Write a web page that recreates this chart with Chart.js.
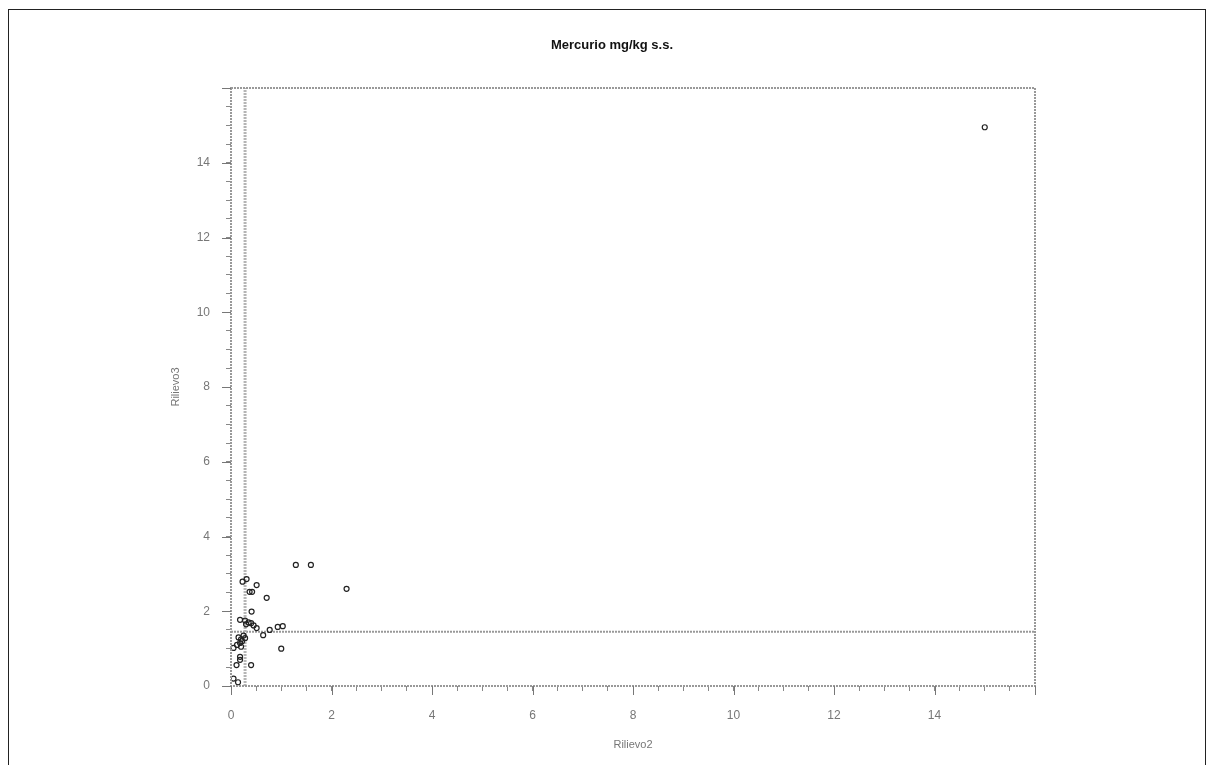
<!DOCTYPE html>
<html>
<head>
<meta charset="utf-8">
<title>Mercurio mg/kg s.s.</title>
<script src="https://cdn.jsdelivr.net/npm/chart.js@4.4.0/dist/chart.umd.min.js"></script>
<style>
  html, body { margin: 0; padding: 0; background: #fff; }
  #frame {
    position: absolute; left: 8px; top: 9px; width: 1196px; height: 800px;
    border-top: 1px solid #222; border-left: 1px solid #222; border-right: 1px solid #222;
  }
  #wrap { position: absolute; left: 0; top: 0; width: 1214px; height: 765px; }
</style>
</head>
<body>
<div id="frame"></div>
<div id="wrap"><canvas id="graph"></canvas></div>
<script>
// campioni: Rilievo2 (x) contro Rilievo3 (y)
const rilievo2 = [
  15.0, 1.29, 1.59, 2.3,
  0.23, 0.31, 0.37, 0.42, 0.51, 0.71,
  0.41, 0.28, 0.35, 0.40, 0.45, 0.30, 0.18,
  0.51, 0.64, 0.77, 0.93, 1.03, 1.0,
  0.15, 0.20, 0.18, 0.22, 0.25, 0.12, 0.20, 0.28,
  0.05, 0.18, 0.11, 0.18, 0.40, 0.14, 0.05
];
const rilievo3 = [
  14.95, 3.24, 3.24, 2.6,
  2.79, 2.86, 2.52, 2.52, 2.7, 2.36,
  1.99, 1.75, 1.7, 1.68, 1.62, 1.65, 1.77,
  1.55, 1.36, 1.5, 1.58, 1.6, 1.0,
  1.3, 1.25, 1.15, 1.2, 1.35, 1.1, 1.05, 1.28,
  1.02, 0.78, 0.56, 0.7, 0.56, 0.1, 0.2
];
const soglia2 = 0.28;   // linea verticale
const soglia3 = 1.45;   // linea orizzontale
const axisMin = 0;
const axisMax = 16;
const labelMax = 14;    // ultima etichetta mostrata
const majorStep = 2;
const minorStep = 0.5;
const chartTitle = "Mercurio mg/kg s.s.";

const points = rilievo2.map((x, i) => ({ x, y: rilievo3[i] }));

// cornice, tacche maggiori e titolo
const extras = {
  id: "extras",
  afterDraw(chart) {
    const { ctx, chartArea: a, scales: { x, y } } = chart;
    ctx.save();
    ctx.strokeStyle = "#999";
    ctx.lineWidth = 2;
    ctx.setLineDash([2, 1]);
    ctx.strokeRect(a.left, a.top, a.right - a.left, a.bottom - a.top);
    ctx.setLineDash([]);
    ctx.lineWidth = 1;
    ctx.strokeStyle = "#777";
    for (let v = axisMin; v <= axisMax; v += majorStep) {
      const px = Math.round(x.getPixelForValue(v)) + 0.5;
      const py = Math.round(y.getPixelForValue(v)) + 0.5;
      ctx.beginPath();
      ctx.moveTo(px, a.bottom);
      ctx.lineTo(px, a.bottom + 9);
      ctx.moveTo(a.left, py);
      ctx.lineTo(a.left - 9, py);
      ctx.stroke();
    }
    ctx.fillStyle = "#111";
    ctx.font = "bold 13px 'Liberation Sans', Arial, sans-serif";
    ctx.textAlign = "center";
    ctx.textBaseline = "middle";
    ctx.fillText(chartTitle, 612, 45);
    ctx.restore();
  }
};

const tickFont = { family: "'Liberation Sans', Arial, sans-serif", size: 12 };
const tickLabel = v => (v % majorStep === 0 && v <= labelMax ? v : "");

new Chart(document.getElementById("graph"), {
  type: "scatter",
  data: {
    datasets: [
      {
        label: "campioni",
        data: points,
        pointRadius: 2.5,
        pointBorderWidth: 1.2,
        borderColor: "#222",
        backgroundColor: "rgba(0,0,0,0)",
        order: 0
      },
      {
        label: "soglia Rilievo2",
        data: [{ x: soglia2, y: axisMin }, { x: soglia2, y: axisMax }],
        showLine: true,
        pointRadius: 0,
        borderColor: "#b5b5b5",
        borderWidth: 3,
        borderDash: [2, 1],
        order: 1
      },
      {
        label: "soglia Rilievo3",
        data: [{ x: axisMin, y: soglia3 }, { x: axisMax, y: soglia3 }],
        showLine: true,
        pointRadius: 0,
        borderColor: "#999",
        borderWidth: 2,
        borderDash: [2, 1],
        order: 1
      }
    ]
  },
  options: {
    responsive: true,
    maintainAspectRatio: false,
    animation: false,
    layout: { padding: { left: 0, right: 179, top: 88, bottom: 0 } },
    plugins: {
      legend: { display: false },
      title: { display: false },
      tooltip: { enabled: false }
    },
    scales: {
      x: {
        type: "linear",
        min: axisMin,
        max: axisMax,
        afterFit: s => { s.height = 79; },
        ticks: {
          stepSize: minorStep,
          autoSkip: false,
          maxRotation: 0,
          padding: 17,
          color: "#777",
          font: tickFont,
          callback: tickLabel
        },
        grid: { drawOnChartArea: false, drawTicks: true, tickLength: 5, color: "#888" },
        border: { display: false },
        title: {
          display: true,
          text: "Rilievo2",
          color: "#777",
          font: { family: "'Liberation Sans', Arial, sans-serif", size: 11 },
          padding: { top: 0, bottom: 13 }
        }
      },
      y: {
        type: "linear",
        min: axisMin,
        max: axisMax,
        afterFit: s => { s.width = 231; },
        ticks: {
          stepSize: minorStep,
          autoSkip: false,
          padding: 16,
          color: "#777",
          font: tickFont,
          callback: tickLabel
        },
        grid: { drawOnChartArea: false, drawTicks: true, tickLength: 5, color: "#888" },
        border: { display: false },
        title: {
          display: true,
          text: "Rilievo3",
          color: "#777",
          font: { family: "'Liberation Sans', Arial, sans-serif", size: 11 },
          padding: { top: 169, bottom: 0 }
        }
      }
    }
  },
  plugins: [extras]
});
</script>
</body>
</html>
